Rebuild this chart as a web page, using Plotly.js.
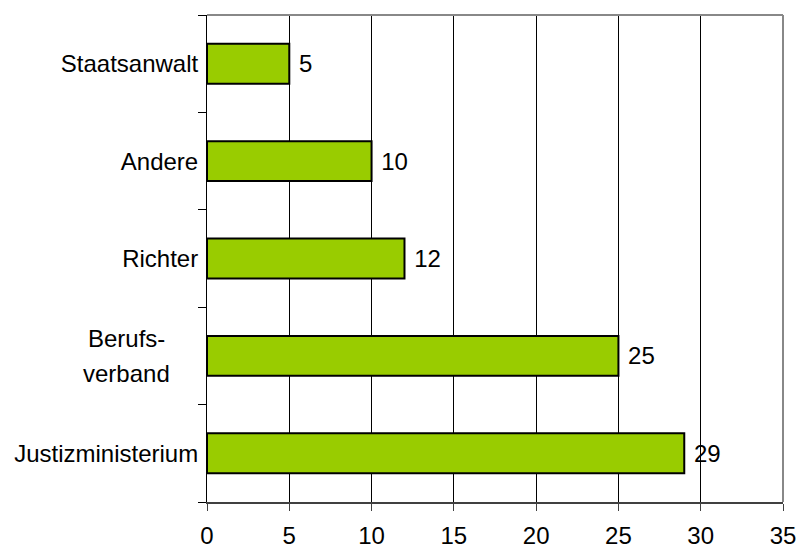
<!DOCTYPE html>
<html>
<head>
<meta charset="utf-8">
<script src="https://cdn.plot.ly/plotly-3.0.1.min.js"></script>
<style>html,body{margin:0;padding:0;background:#fff;}#chart{width:799px;height:548px;}</style>
</head>
<body>
<div id="chart"></div>
<script>
// Data (bottom to top)
var categories = ["Justizministerium", "Berufsverband", "Richter", "Andere", "Staatsanwalt"];
var tickLabels = ["Justizministerium", "", "Richter", "Andere", "Staatsanwalt"];
var values = [29, 25, 12, 10, 5];
var xTickVals = [0, 5, 10, 15, 20, 25, 30, 35];
var wrappedCategory = "Berufsverband";
var wrappedLines = ["Berufs-", "verband"];

var FONT = "Liberation Sans, Arial, Helvetica, sans-serif";
var FS = 24;

var trace = {
  type: "bar",
  orientation: "h",
  y: categories,
  x: values,
  text: values.map(function (v) { return "\u00a0" + v; }),
  textposition: "outside",
  cliponaxis: false,
  textfont: {family: FONT, size: FS, color: "#000"},
  marker: {color: "#99CC00", line: {color: "#000", width: 2}},
  hoverinfo: "none"
};

var lineShifts = [17, -18];
var annotations = wrappedLines.map(function (t, i) {
  return {xref: "paper", yref: "y", x: -0.14, y: wrappedCategory, text: t,
    showarrow: false, xanchor: "center", yanchor: "middle", align: "center",
    yshift: lineShifts[i],
    font: {family: FONT, size: FS, color: "#000"}};
});

var layout = {
  width: 799, height: 548,
  margin: {l: 207, r: 16, t: 15, b: 46, pad: 0},
  paper_bgcolor: "#fff", plot_bgcolor: "#fff",
  showlegend: false,
  bargap: 0.59,
  font: {family: FONT, size: FS, color: "#000"},
  xaxis: {
    range: [0, 35],
    tickvals: xTickVals,
    ticktext: xTickVals.map(String),
    showgrid: true, gridcolor: "#000", gridwidth: 1,
    zeroline: false,
    showline: true, linecolor: "#404040", linewidth: 2,
    ticks: "outside", ticklen: 7, tickcolor: "#404040", tickwidth: 1,
    ticklabelstandoff: 4,
    tickfont: {family: FONT, size: FS, color: "#000"},
    fixedrange: true
  },
  yaxis: {
    type: "category",
    categoryorder: "array",
    categoryarray: categories,
    tickvals: categories,
    ticktext: tickLabels,
    tickson: "boundaries",
    ticks: "outside", ticklen: 8, tickcolor: "#000", tickwidth: 1,
    ticklabelstandoff: 3,
    showgrid: false, zeroline: false,
    showline: true, linecolor: "#000", linewidth: 1,
    tickfont: {family: FONT, size: FS, color: "#000"},
    fixedrange: true
  },
  shapes: [
    {type: "line", xref: "paper", yref: "paper", x0: 0, x1: 1, y0: 1, y1: 1, line: {color: "#888", width: 2}},
    {type: "line", xref: "paper", yref: "paper", x0: 1, x1: 1, y0: 0, y1: 1, line: {color: "#888", width: 2}}
  ],
  annotations: annotations
};

Plotly.newPlot("chart", [trace], layout, {displayModeBar: false, staticPlot: true});
</script>
</body>
</html>
